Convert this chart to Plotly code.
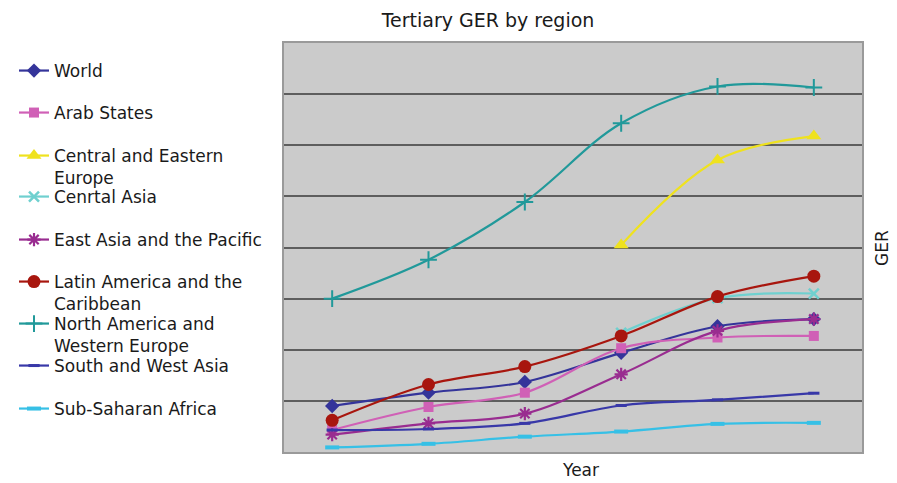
import plotly.graph_objects as go

# Six observation points along the time axis (no tick labels are shown)
time_points = [0, 1, 2, 3, 4, 5]

# Tertiary gross enrolment ratio (%) by region; None = no data for that point
world = [9.0, 11.6, 13.7, 19.4, 24.6, 26.0]
arab_states = [4.3, 8.8, 11.6, 20.3, 22.4, 22.7]
central_eastern_europe = [None, None, None, 40.5, 57.1, 61.8]
central_asia = [None, None, None, 23.3, 30.1, 31.0]
east_asia_pacific = [3.4, 5.6, 7.5, 15.2, 23.7, 26.0]
latin_america = [6.2, 13.2, 16.7, 22.7, 30.4, 34.4]
north_america_we = [30.0, 37.6, 48.9, 64.3, 71.5, 71.3]
south_west_asia = [4.3, 4.5, 5.6, 9.1, 10.2, 11.5]
sub_saharan_africa = [0.9, 1.6, 3.0, 4.0, 5.5, 5.7]

region_names = [
    "World",
    "Arab States",
    "Central and Eastern<br>Europe",
    "Cenrtal Asia",
    "East Asia and the Pacific",
    "Latin America and the<br>Caribbean",
    "North America and<br>Western Europe",
    "South and West Asia",
    "Sub-Saharan Africa",
]
region_values = [
    world, arab_states, central_eastern_europe, central_asia,
    east_asia_pacific, latin_america, north_america_we,
    south_west_asia, sub_saharan_africa,
]

# Line / marker styling per region
styles = [
    dict(color="#34349a", symbol="diamond", size=11, lw=0),
    dict(color="#d060b6", symbol="square", size=10, lw=0),
    dict(color="#efe21e", symbol="triangle-up", size=13, lw=0),
    dict(color="#6fd0cf", symbol="x-thin-open", size=10, lw=2.5),
    dict(color="#992c90", symbol="asterisk-open", size=11, lw=2.2),
    dict(color="#a8160e", symbol="circle", size=13, lw=0),
    dict(color="#21999a", symbol="cross-thin-open", size=12, lw=2),
    dict(color="#3838a8", symbol="line-ew-open", size=8, lw=3),
    dict(color="#36c0e6", symbol="line-ew-open", size=10, lw=4),
]

W, H = 897, 483
PLOT_L, PLOT_R, PLOT_T, PLOT_B = 284, 862, 43, 452
FONT = "DejaVu Sans"

# Vertical pixel position of each legend row (first text line)
legend_rows = [70, 112, 155, 196, 239, 281, 323, 365, 408]

fig = go.Figure()
layout_legends = {}
for i, (name, vals, st) in enumerate(zip(region_names, region_values, styles)):
    key = "legend" if i == 0 else f"legend{i + 1}"
    marker = dict(symbol=st["symbol"], size=st["size"], color=st["color"])
    if st["lw"]:
        marker["line"] = dict(color=st["color"], width=st["lw"])
    fig.add_trace(go.Scatter(
        x=time_points, y=vals, name=name, mode="lines+markers",
        line=dict(color=st["color"], width=2.2, shape="spline", smoothing=1.0),
        marker=marker, legend=key, connectgaps=False,
    ))
    layout_legends[key] = dict(
        x=14 / W, xref="container", xanchor="left",
        y=1 - (legend_rows[i] - 17) / H, yref="container", yanchor="top",
        valign="top", bgcolor="rgba(0,0,0,0)", borderwidth=0,
        font=dict(family=FONT, size=17, color="#1a1a1a"),
    )

fig.update_layout(
    width=W, height=H,
    margin=dict(l=PLOT_L, r=W - PLOT_R, t=PLOT_T, b=H - PLOT_B),
    paper_bgcolor="white",
    plot_bgcolor="#cbcbcb",
    showlegend=True,
    title=dict(
        text="Tertiary GER by region",
        x=488 / W, xref="container", xanchor="center",
        y=1 - 20 / H, yref="container", yanchor="middle",
        font=dict(family=FONT, size=19, color="#1a1a1a"),
    ),
    xaxis=dict(
        range=[-0.5, 5.5], showticklabels=False, ticks="",
        showgrid=False, zeroline=False,
        showline=True, linecolor="#9a9a9a", linewidth=2, mirror=True,
    ),
    yaxis=dict(
        range=[0, 80], dtick=10, showticklabels=False, ticks="",
        showgrid=True, gridcolor="#5e5e5e", gridwidth=2, zeroline=False,
        showline=True, linecolor="#9a9a9a", linewidth=2, mirror=True,
    ),
    annotations=[
        dict(text="Year", xref="paper", yref="paper",
             x=(580 - PLOT_L) / (PLOT_R - PLOT_L), y=(PLOT_B - 470) / (PLOT_B - PLOT_T),
             xanchor="center", yanchor="middle", showarrow=False,
             font=dict(family=FONT, size=17, color="#1a1a1a")),
        dict(text="GER", xref="paper", yref="paper", textangle=-90,
             x=(882 - PLOT_L) / (PLOT_R - PLOT_L), y=(PLOT_B - 248) / (PLOT_B - PLOT_T),
             xanchor="center", yanchor="middle", showarrow=False,
             font=dict(family=FONT, size=17, color="#1a1a1a")),
    ],
    **layout_legends,
)

fig.write_html("out.html")
